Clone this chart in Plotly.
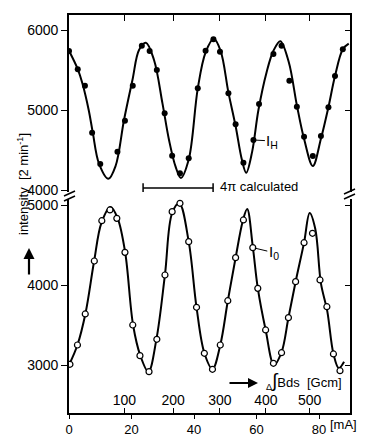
import plotly.graph_objects as go

# ---------------- data ----------------
# upper panel: I_H, filled dots
ih_x = [0, 2.8, 5.1, 7.4, 10.0, 15.5, 17.9, 20.4, 23.3, 25.8, 28.1, 30.6, 33.0, 35.5, 38.3,
        41.2, 43.7, 46.2, 48.3, 51.0, 53.3, 55.8, 59.0, 60.8, 65.4, 68.0, 70.5, 72.9, 75.2,
        78.0, 80.6, 83.0, 85.1, 87.6]
ih_y = [5737, 5508, 5304, 4717, 4325, 4479, 4867, 5304, 5804, 5737, 5500, 4958, 4429, 4208, 4396,
        5271, 5742, 5883, 5729, 5208, 4821, 4342, 4625, 5075, 5700, 5804, 5367, 5042, 4667,
        4425, 4675, 5033, 5425, 5758]
# fitted curve through I_H
ih_fit_x = [0, 2.8, 4.3, 6.3, 7.6, 9.6, 12.6, 14.9, 17.6, 20.3, 22.4, 24.6, 27.2, 29.9, 32.0, 34.1, 35.8,
            38.3, 41.2, 43.7, 46.3, 48.5, 51.0, 53.3, 55.3, 56.7, 58.6, 60.6, 63.2, 65.4, 67.6, 70.3,
            72.9, 75.2, 78.0, 80.6, 83.0, 85.1, 87.6, 89.5]
ih_fit_y = [5740, 5510, 5330, 5000, 4720, 4330, 4140, 4300, 4875, 5375, 5750, 5840, 5625, 5083, 4625, 4292, 4150,
            4380, 5270, 5720, 5890, 5740, 5220, 4800, 4380, 4215, 4480, 5000, 5470, 5740, 5860, 5600,
            5060, 4640, 4300, 4640, 5035, 5425, 5760, 5830]

# lower panel: I_0, open circles
i0_x = [0.3, 2.7, 5.2, 8.1, 10.5, 13.1, 15.3, 17.9, 20.4, 22.7, 25.6, 28.1, 30.7, 33.0, 35.5, 38.3,
        40.8, 43.3, 45.9, 48.4, 50.8, 53.3, 55.8, 58.8, 60.4, 62.9, 65.4, 68.0, 70.2, 72.5, 75.2,
        77.9, 80.3, 82.5, 84.6, 86.7]
i0_y = [3009, 3250, 3638, 4300, 4804, 4938, 4833, 4408, 3500, 3117, 2917, 3321, 4125, 4917, 5021, 4542,
        3721, 3146, 2946, 3250, 3804, 4342, 4813, 4467, 3958, 3438, 3021, 3154, 3592, 4042, 4529,
        4646, 4063, 3729, 3138, 2929]
i0_fit_x = [0, 2.7, 5.3, 8.0, 10.4, 13.3, 15.6, 18.0, 20.5, 22.8, 25.4, 28.0, 30.7, 33.0, 35.3, 38.3,
            40.8, 43.3, 45.9, 48.4, 50.8, 53.3, 55.6, 57.0, 58.8, 60.4, 62.9, 65.6, 68.0, 70.2, 72.5,
            75.2, 77.0, 78.8, 80.6, 82.6, 84.6, 86.3, 88.0]
i0_fit_y = [3000, 3250, 3650, 4290, 4780, 4975, 4830, 4400, 3500, 3120, 2915, 3330, 4130, 4900, 5020, 4542,
            3720, 3150, 2950, 3250, 3800, 4340, 4800, 4950, 4480, 3960, 3440, 3000, 3160, 3590, 4040,
            4530, 4900, 4700, 4020, 3680, 3140, 2960, 3040]

# axis ticks
ma_ticks = [0, 20, 40, 60, 80]
gcm_pos = [17.7, 33.3, 48.3, 63.0, 77.0]          # positions in mA of the Gcm ticks
gcm_labels = ["100", "200", "300", "400", "500"]
upper_ticks = [4000, 5000, 6000]
lower_ticks = [3000, 4000, 5000]
bar_4pi = [23.7, 46.1]   # "4π calculated" span in mA
bar_4pi_level = 4025

# ---------------- geometry ----------------
W, H = 374, 436
L, R, T, B = 69, 24, 15, 23
PW, PH = W - L - R, H - T - B

def px(X):
    return (X - L) / PW

def py(Y):
    return (H - B - Y) / PH

FONT = "Liberation Sans, Arial, sans-serif"
up_range = [3975, 6187.5]
lo_range = [2400, 5075]
x_range = [0, 89.9]

fig = go.Figure()
fig.add_trace(go.Scatter(x=ih_fit_x, y=ih_fit_y, mode="lines", line=dict(color="black", width=2, shape="spline", smoothing=1.0),
                         xaxis="x", yaxis="y", hoverinfo="skip"))
fig.add_trace(go.Scatter(x=ih_x, y=ih_y, mode="markers", marker=dict(color="black", size=6),
                         xaxis="x", yaxis="y"))
fig.add_trace(go.Scatter(x=i0_fit_x, y=i0_fit_y, mode="lines", line=dict(color="black", width=2, shape="spline", smoothing=1.0),
                         xaxis="x", yaxis="y2", hoverinfo="skip"))
fig.add_trace(go.Scatter(x=i0_x, y=i0_y, mode="markers",
                         marker=dict(color="white", size=6, line=dict(color="black", width=1.2)),
                         xaxis="x", yaxis="y2"))
# empty traces so the extra frame axes get drawn
fig.add_trace(go.Scatter(x=[], y=[], xaxis="x3", yaxis="y2"))
fig.add_trace(go.Scatter(x=[], y=[], xaxis="x4", yaxis="y"))
fig.add_trace(go.Scatter(x=[], y=[], xaxis="x", yaxis="y3"))
fig.add_trace(go.Scatter(x=[], y=[], xaxis="x", yaxis="y4"))

axis_common = dict(showgrid=False, zeroline=False, showline=True, linecolor="black", linewidth=1.6,
                   tickcolor="black", tickwidth=1.4, automargin=False,
                   tickfont=dict(family=FONT, size=14, color="black"))

up_dom = [py(192), 1]
lo_dom = [0, py(199)]

fig.update_layout(
    width=W, height=H, margin=dict(l=L, r=R, t=T, b=B, autoexpand=False),
    paper_bgcolor="white", plot_bgcolor="white", showlegend=False,
    xaxis=dict(range=x_range, anchor="y2", domain=[0, 1], ticks="outside", ticklen=4,
               tickvals=ma_ticks, **{**axis_common, "tickfont": dict(family=FONT, size=13, color="black")}),
    xaxis3=dict(range=x_range, overlaying="x", anchor="y2", side="bottom", ticks="inside", ticklen=5,
                tickvals=gcm_pos, ticktext=gcm_labels, ticklabelposition="inside",
                **{**axis_common, "showline": False}),
    xaxis4=dict(range=x_range, overlaying="x", anchor="y", side="top", ticks="inside", ticklen=6,
                tickvals=gcm_pos, showticklabels=False, **axis_common),
    yaxis=dict(range=up_range, domain=up_dom, anchor="x", ticks="outside", ticklen=6,
               tickvals=upper_ticks, **axis_common),
    yaxis2=dict(range=lo_range, domain=lo_dom, anchor="x", ticks="outside", ticklen=6,
                tickvals=lower_ticks, **axis_common),
    yaxis3=dict(range=up_range, overlaying="y", anchor="x", side="right", ticks="inside", ticklen=5,
                tickvals=[5000, 6000], showticklabels=False, **axis_common),
    yaxis4=dict(range=lo_range, overlaying="y2", anchor="x", side="right", ticks="inside", ticklen=5,
                tickvals=lower_ticks, showticklabels=False, **axis_common),
)

ann = []
ann.append(dict(text="intensity  [2 min<sup>-1</sup>]", textangle=-90, x=px(23), y=py(184),
                xanchor="center", yanchor="middle",
                xref="paper", yref="paper", showarrow=False, font=dict(family=FONT, size=13, color="black")))
ann.append(dict(text="", x=px(29), y=py(248), xref="paper", yref="paper", showarrow=True,
                ax=0, ay=28, arrowhead=2, arrowsize=1, arrowwidth=2.2, arrowcolor="black"))
ann.append(dict(text="4π calculated", x=px(218), y=py(186), xref="paper", yref="paper",
                xanchor="left", yanchor="middle", showarrow=False, font=dict(family=FONT, size=13, color="black")))
ann.append(dict(text="I<sub>H</sub>", x=ih_x[22], y=ih_y[22], xref="x", yref="y", showarrow=True,
                ax=19, ay=1, arrowhead=0, arrowwidth=1, arrowcolor="black", standoff=2,
                font=dict(family=FONT, size=15, color="black")))
ann.append(dict(text="I<sub>0</sub>", x=i0_x[23], y=i0_y[23], xref="x", yref="y2", showarrow=True,
                ax=21, ay=5, arrowhead=0, arrowwidth=1, arrowcolor="black", standoff=2,
                font=dict(family=FONT, size=15, color="black")))
ann.append(dict(text="", x=px(258), y=py(383), xref="paper", yref="paper", showarrow=True,
                ax=-30, ay=0, arrowhead=2, arrowsize=1, arrowwidth=2, arrowcolor="black"))
ann.append(dict(text="<sub>Δ</sub><span style='font-size:19px'>∫</span>Bds  [Gcm]", x=px(264), y=py(381),
                xref="paper", yref="paper", xanchor="left", yanchor="middle",
                showarrow=False, font=dict(family=FONT, size=13, color="black")))
ann.append(dict(text="[mA]", x=px(328), y=py(424), xref="paper", yref="paper",
                xanchor="left", yanchor="middle",
                showarrow=False, font=dict(family=FONT, size=13, color="black")))
fig.update_layout(annotations=ann)

shapes = []
lw = dict(color="black", width=1.5)
# 4π calculated bar
shapes.append(dict(type="line", x0=bar_4pi[0], x1=bar_4pi[1], y0=bar_4pi_level, y1=bar_4pi_level,
                   xref="x", yref="y", line=lw))
for xb in bar_4pi:
    shapes.append(dict(type="line", x0=xb, x1=xb, y0=bar_4pi_level - 60, y1=bar_4pi_level + 60,
                       xref="x", yref="y", line=lw))
# axis break marks
for (x0, y0, x1, y1) in [(64, 196, 75, 191), (64, 201, 75, 196), (344, 194, 355, 189), (344, 199, 355, 194)]:
    shapes.append(dict(type="line", x0=px(x0), y0=py(y0), x1=px(x1), y1=py(y1),
                       xref="paper", yref="paper", line=lw))
fig.update_layout(shapes=shapes)

fig.write_html("out.html", config={"displayModeBar": False},
               post_script="document.body.style.margin='0';document.body.style.overflow='hidden';")
